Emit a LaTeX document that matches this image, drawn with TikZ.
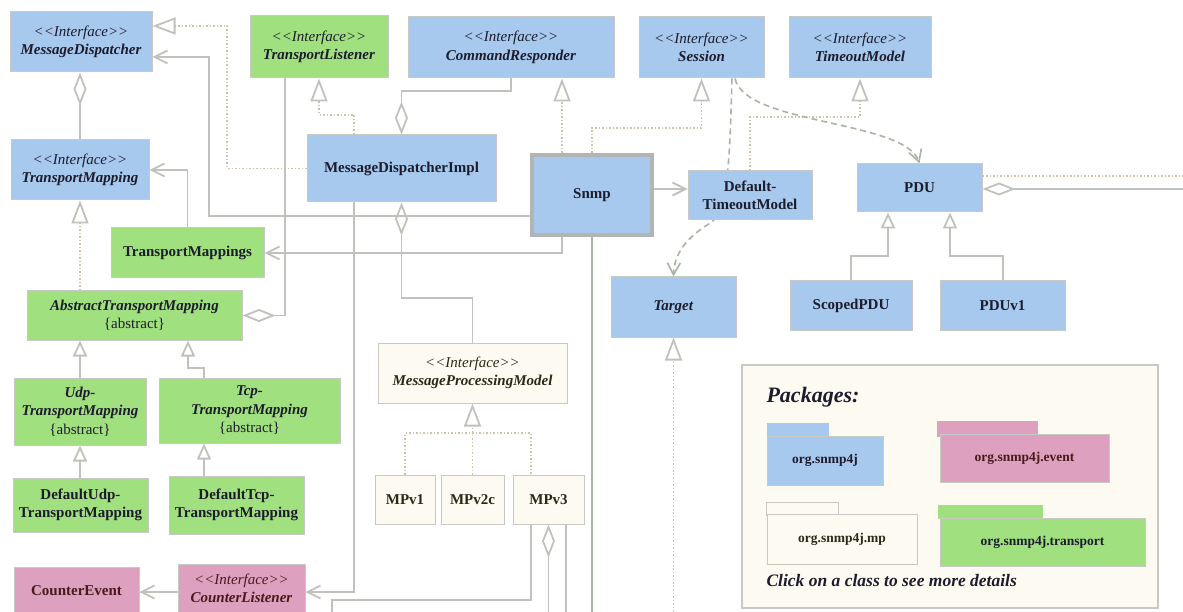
\documentclass[tikz,border=0pt]{standalone}
\usepackage{fontspec}
\setmainfont{Liberation Serif}
\usetikzlibrary{arrows.meta,backgrounds,calc}
\definecolor{cblue}{HTML}{A7C9EE}
\definecolor{cgreen}{HTML}{A1E07F}
\definecolor{cpink}{HTML}{DDA0BE}
\definecolor{ccream}{HTML}{FDFBF1}
\definecolor{cborder}{HTML}{C8C8C4}
\definecolor{linec}{HTML}{C2C2BC}
\definecolor{dotc}{HTML}{CCC4A8}
\definecolor{depc}{HTML}{A9B5A3}
\definecolor{ctext}{HTML}{1C1C2C}
\definecolor{cpinktext}{HTML}{4A1A1A}
\definecolor{ccreamtext}{HTML}{2A2A14}
\definecolor{csnmp}{HTML}{B4B4B4}
\newcommand{\ifacetxt}[1]{{\mdseries\itshape <\kern0pt<Interface>\kern0pt>}\\\textit{#1}}
\tikzset{
  cls/.style={draw=cborder, line width=1pt, inner sep=1pt, align=center,
    font=\fontsize{15}{18.5}\selectfont\bfseries, text=ctext},
  bluebox/.style={cls, fill=cblue},
  greenbox/.style={cls, fill=cgreen},
  pinkbox/.style={cls, fill=cpink, text=cpinktext},
  creambox/.style={cls, fill=ccream, text=ccreamtext},
  con/.style={draw=linec, line width=1.8pt},
  dotcon/.style={draw=dotc, line width=1.5pt, dash pattern=on 1.5pt off 2pt},
  realz/.style={dotcon, -{Triangle[open,length=23pt,width=17pt,line width=1.8pt,color=linec]}},
  genz/.style={con, -{Triangle[open,length=16pt,width=14pt,line width=1.8pt,color=linec]}},
  assoc/.style={con, -{Straight Barb[length=13pt,width=13pt,line width=1.8pt]}},
  aggr/.style={con, -{Diamond[open,length=33pt,width=13pt,line width=1.8pt]}},
  depend/.style={draw=depc, line width=1.6pt, dash pattern=on 6pt off 4pt,
    -{Straight Barb[length=12pt,width=13pt,line width=1.6pt]}},
  tab/.style={line width=0.8pt},
}
\begin{document}
\begin{tikzpicture}[x=1pt,y=-1pt]
\useasboundingbox (0,0) rectangle (1183,612);

% ---------- classes ----------
\node[bluebox, minimum width=142pt, minimum height=60pt] (MD) at (81,42) {\ifacetxt{MessageDispatcher}};
\node[greenbox, minimum width=138pt, minimum height=62pt] (TL) at (319,47) {\ifacetxt{TransportListener}};
\node[bluebox, minimum width=206pt, minimum height=61pt] (CR) at (511,47.5) {\ifacetxt{CommandResponder}};
\node[bluebox, minimum width=125pt, minimum height=61pt] (Sess) at (701.5,47.5) {\ifacetxt{Session}};
\node[bluebox, minimum width=142pt, minimum height=61pt] (TOM) at (860,47.5) {\ifacetxt{TimeoutModel}};
\node[bluebox, minimum width=138pt, minimum height=60pt] (TMap) at (80,170) {\ifacetxt{TransportMapping}};
\node[bluebox, minimum width=189pt, minimum height=67pt] (MDI) at (401.5,168.5) {MessageDispatcherImpl};
\node[bluebox, draw=csnmp, line width=4pt, minimum width=120pt, minimum height=80pt] (Snmp) at (592,195) {Snmp};
\node[bluebox, minimum width=124pt, minimum height=49pt] (DTM) at (750,195.5) {Default-\\TimeoutModel};
\node[bluebox, minimum width=125pt, minimum height=48pt] (PDU) at (919.5,188) {PDU};
\node[greenbox, minimum width=153pt, minimum height=50pt] (TMs) at (187.5,253) {TransportMappings};
\node[bluebox, minimum width=125pt, minimum height=60pt] (Target) at (673.5,307) {\textit{Target}};
\node[greenbox, minimum width=215pt, minimum height=49pt] (ATM) at (134.5,315.5) {\textit{AbstractTransportMapping}\\{\mdseries\{abstract\}}};
\node[bluebox, minimum width=122pt, minimum height=49pt] (SPDU) at (851,305.5) {ScopedPDU};
\node[bluebox, minimum width=125pt, minimum height=49pt] (PDUv1) at (1002.5,305.5) {PDUv1};
\node[creambox, minimum width=189pt, minimum height=60pt] (MPM) at (472.5,373) {\ifacetxt{MessageProcessingModel}};
\node[greenbox, minimum width=132pt, minimum height=67pt] (Udp) at (80,411.5) {\textit{Udp-}\\\textit{TransportMapping}\\{\mdseries\{abstract\}}};
\node[greenbox, minimum width=181pt, minimum height=65pt] (Tcp) at (249.5,410.5) {\textit{Tcp-}\\\textit{TransportMapping}\\{\mdseries\{abstract\}}};
\node[greenbox, minimum width=135pt, minimum height=54pt] (DUdp) at (80.5,505) {DefaultUdp-\\TransportMapping};
\node[greenbox, minimum width=135pt, minimum height=58pt] (DTcp) at (236.5,505) {DefaultTcp-\\TransportMapping};
\node[creambox, minimum width=60pt, minimum height=49pt] (MPv1) at (405,499.5) {MPv1};
\node[creambox, minimum width=63pt, minimum height=49pt] (MPv2c) at (472.5,499.5) {MPv2c};
\node[creambox, minimum width=71pt, minimum height=49pt] (MPv3) at (548.5,499.5) {MPv3};
\node[pinkbox, minimum width=125pt, minimum height=47pt] (CE) at (76.5,590.5) {CounterEvent};
\node[pinkbox, minimum width=127pt, minimum height=49pt] (CL) at (241.5,588.5) {\ifacetxt{CounterListener}};

% ---------- legend ----------
\node[draw=cborder, fill=ccream, line width=1.2pt, minimum width=416pt, minimum height=243pt] (Leg) at (950,486.5) {};
\node[anchor=west, font=\fontsize{22}{24}\selectfont\bfseries\itshape, text=ctext] (LegT) at (763,397) {Packages:};
\fill[cblue] (767,423) rectangle (829,438);
\node[bluebox, font=\fontsize{13.5}{16}\selectfont\bfseries, minimum width=116pt, minimum height=49pt] (P1) at (825,460.5) {org.snmp4j};
\fill[cpink] (937,421) rectangle (1038,437);
\node[pinkbox, font=\fontsize{13.5}{16}\selectfont\bfseries, minimum width=169pt, minimum height=48pt] (P2) at (1024.5,458) {org.snmp4j.event};
\filldraw[fill=ccream, draw=cborder, tab] (766,502) rectangle (838,515);
\node[creambox, font=\fontsize{13.5}{16}\selectfont\bfseries, minimum width=150pt, minimum height=50pt] (P3) at (842,539) {org.snmp4j.mp};
\fill[cgreen] (938,505) rectangle (1043,519);
\node[greenbox, font=\fontsize{13.5}{16}\selectfont\bfseries, minimum width=205pt, minimum height=48pt] (P4) at (1042.5,542) {org.snmp4j.transport};
\node[anchor=west, font=\fontsize{17.5}{20}\selectfont\bfseries\itshape, text=ctext] (LegC) at (763,581) {Click on a class to see more details};

% ---------- connectors ----------
\begin{scope}[on background layer]
\fill[white] (0,0) rectangle (1183,612);
% MessageDispatcherImpl realizes MessageDispatcher
\draw[realz] (MDI.west) -| (227,26) -- (MD.east |- 227,26);
% Snmp -> MessageDispatcher
\draw[assoc] (Snmp.west |- 0,216) -| (209,57) -- (MD.east |- 209,57);
% TransportMappings -> TransportMapping
\draw[assoc] (TMs.north) |- (TMap.east);
% Snmp -> TransportMappings
\draw[assoc] (Snmp.south -| 562,0) |- (TMs.east);
% TransportListener -- AbstractTransportMapping
\draw[aggr] (TL.south -| 285,0) |- (ATM.east);
% MessageDispatcherImpl realizes TransportListener
\draw[realz] (MDI.north -| 354,0) -- (354,115) -| (TL.south -| 319,0);
% CommandResponder -- MessageDispatcherImpl
\draw[aggr] (CR.south) -- (511,91) -| (MDI.north);
% Snmp realizes CommandResponder, Session
\draw[realz] (Snmp.north -| 562,0) -- (CR.south -| 562,0);
\draw[realz] (Snmp.north) -- (592,128) -| (Sess.south);
% TransportMapping -- MessageDispatcher
\draw[aggr] (TMap.north) -- (TMap.north |- MD.south);
% AbstractTransportMapping realizes TransportMapping
\draw[realz] (ATM.north -| TMap.south) -- (TMap.south);
% generalizations
\draw[genz] (Udp.north) -- (Udp.north |- ATM.south);
\draw[genz] (Tcp.north -| 204,0) -- (204,368) -| (ATM.south -| 188,0);
\draw[genz] (DUdp.north -| Udp.south) -- (Udp.south);
\draw[genz] (DTcp.north -| 204,0) -- (Tcp.south -| 204,0);
% MessageProcessingModel -- MessageDispatcherImpl
\draw[aggr] (MPM.north) -- (472.5,298) -| (MDI.south);
% MPv* realize MessageProcessingModel
\draw[realz] (MPv2c.north) -- (MPM.south);
\draw[dotcon] (MPv1.north) |- (531,433) -- (MPv3.north -| 531,0);
% MPv3 lines
\draw[con] (MPv3.south -| 531,0) -- (531,600) -- (332,600) -- (332,615);
\draw[aggr] (548.5,615) -- (MPv3.south);
\draw[con] (MPv3.south -| 566,0) -- (566,615);
% MessageDispatcherImpl -> CounterListener
\draw[assoc] (MDI.south -| 354,0) -- (354,592) -- (CL.east |- 354,592);
% CounterListener -> CounterEvent
\draw[assoc] (CL.west |- 0,592) -- (CE.east |- 0,592);
% Snmp down
\draw[draw=depc, line width=1.2pt] (Snmp.south) -- (592,615);
% Target realized
\draw[realz] (673.5,615) -- (Target.south);
% Snmp -> DefaultTimeoutModel
\draw[assoc] (Snmp.east |- 0,189) -- (DTM.west |- 0,189);
% DefaultTimeoutModel realizes TimeoutModel
\draw[realz] (DTM.north) -- (750,117) -| (TOM.south);
% dependencies
\draw[depend] (Sess.south -| 732,0) .. controls (730,140) and (730,205) .. (712,222)
  .. controls (685,238) and (674,255) .. (Target.north);
\draw[depend] (Sess.south -| 735,0) .. controls (745,125) and (905,120) .. (PDU.north);
% PDU right side
\draw[aggr] (1190,189) -- (PDU.east |- 0,189);
\draw[dotcon] (PDU.east |- 0,176) -- (1190,176);
% PDU subclasses
\draw[genz] (SPDU.north) -- (851,256) -| (PDU.south -| 888,0);
\draw[genz] (PDUv1.north -| 1003,0) -- (1003,256) -| (PDU.south -| 950,0);
\end{scope}
\end{tikzpicture}
\end{document}
